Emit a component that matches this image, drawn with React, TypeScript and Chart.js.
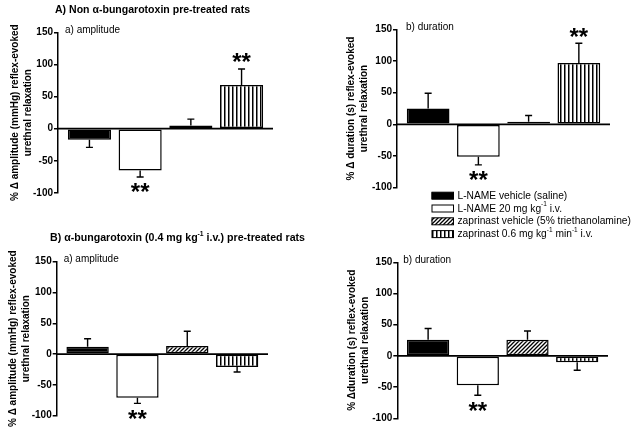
import React, { useEffect, useRef } from "react";
import { Chart, registerables } from "chart.js";

Chart.register(...registerables);

const FONT = '"Liberation Sans", Arial, Helvetica, sans-serif';
Chart.defaults.font.family = FONT;
Chart.defaults.color = "#000";

// ---------------- data ----------------
const treatments = [
  "L-NAME vehicle (saline)",
  "L-NAME 20 mg kg^{-1} i.v.",
  "zaprinast vehicle (5% triethanolamine)",
  "zaprinast 0.6 mg kg^{-1} min^{-1} i.v.",
];
const yTickValues = [-100, -50, 0, 50, 100, 150];

const figureTitleA = "A) Non \u03b1-bungarotoxin pre-treated rats";
const figureTitleB = "B) \u03b1-bungarotoxin (0.4 mg kg^{-1} i.v.) pre-treated rats";

const ampTitle = ["% \u0394 amplitude (mmHg) reflex-evoked", "urethral relaxation"];
const durTitle = ["% \u0394 duration (s) reflex-evoked", "urethral relaxation"];
const durTitleB = ["% \u0394duration (s) reflex-evoked", "urethral relaxation"];

// A) non alpha-bungarotoxin, a) amplitude
const ampNonBgtMean = [-17, -65, 5, 68];
const ampNonBgtSem = [12, 10, 10, 25];
const ampNonBgtSig = [false, true, false, true];
// A) non alpha-bungarotoxin, b) duration
const durNonBgtMean = [25, -51, 4, 97];
const durNonBgtSem = [24, 13, 10, 31];
const durNonBgtSig = [false, true, false, true];
// B) alpha-bungarotoxin, a) amplitude
const ampBgtMean = [12, -71, 13, -21];
const ampBgtSem = [13, 9, 24, 8];
const ampBgtSig = [false, true, false, false];
// B) alpha-bungarotoxin, b) duration
const durBgtMean = [26, -47, 26, -10];
const durBgtSem = [18, 16, 14, 13];
const durBgtSig = [false, true, false, false];

// ---------------- helpers ----------------
type Seg = { t: string; sup: boolean };
function parseRich(s: string): Seg[] {
  const segs: Seg[] = [];
  const re = /\^\{([^}]*)\}/g;
  let last = 0;
  let m: RegExpExecArray | null;
  while ((m = re.exec(s))) {
    if (m.index > last) segs.push({ t: s.slice(last, m.index), sup: false });
    segs.push({ t: m[1], sup: true });
    last = re.lastIndex;
  }
  if (last < s.length) segs.push({ t: s.slice(last), sup: false });
  return segs;
}

function drawRich(
  ctx: CanvasRenderingContext2D,
  s: string,
  x: number,
  y: number,
  size: number,
  weight: string,
  targetWidth?: number,
  scaleX?: number
) {
  const segs = parseRich(s);
  const main = `${weight} ${size}px ${FONT}`;
  const sup = `${weight} ${Math.round(size * 0.62)}px ${FONT}`;
  let w = 0;
  for (const sg of segs) {
    ctx.font = sg.sup ? sup : main;
    w += ctx.measureText(sg.t).width;
  }
  const sx = targetWidth ? targetWidth / w : scaleX ?? 1;
  ctx.save();
  ctx.translate(x, y);
  ctx.scale(sx, 1);
  ctx.textBaseline = "middle";
  ctx.textAlign = "left";
  ctx.fillStyle = "#000";
  let cx = 0;
  for (const sg of segs) {
    ctx.font = sg.sup ? sup : main;
    ctx.fillText(sg.t, cx, sg.sup ? -size * 0.38 : 0);
    cx += ctx.measureText(sg.t).width;
  }
  ctx.restore();
}

function makePattern(kind: string): CanvasPattern | string {
  if (kind === "solid") return "#000";
  if (kind === "empty") return "#fff";
  const c = document.createElement("canvas");
  const g = c.getContext("2d")!;
  if (kind === "diagonal") {
    c.width = 4;
    c.height = 4;
    g.fillStyle = "#fff";
    g.fillRect(0, 0, 4, 4);
    g.strokeStyle = "#000";
    g.lineWidth = 1.3;
    g.beginPath();
    g.moveTo(-1, 5);
    g.lineTo(5, -1);
    g.moveTo(-1, 1);
    g.lineTo(1, -1);
    g.moveTo(3, 5);
    g.lineTo(5, 3);
    g.stroke();
  } else {
    c.width = 4;
    c.height = 4;
    g.fillStyle = "#fff";
    g.fillRect(0, 0, 4, 4);
    g.fillStyle = "#000";
    g.fillRect(0, 0, 1.5, 4);
  }
  return g.createPattern(c, "repeat")!;
}

const fillKinds = ["solid", "empty", "diagonal", "vertical"];

// ---------------- plugins ----------------
const panelMarks = {
  id: "panelMarks",
  afterDatasetsDraw(chart: any, _args: any, opts: any) {
    const { ctx, chartArea } = chart;
    const y = chart.scales.y;
    const meta = chart.getDatasetMeta(0);
    const ds = chart.data.datasets[0];
    ctx.save();
    // zero line
    const y0 = y.getPixelForValue(0);
    ctx.strokeStyle = "#000";
    ctx.lineWidth = 1.8;
    ctx.beginPath();
    ctx.moveTo(chartArea.left, y0);
    ctx.lineTo(chartArea.right, y0);
    ctx.stroke();
    // error bars + stars
    meta.data.forEach((bar: any, i: number) => {
      const v = ds.data[i].y;
      const e = opts.errors[i];
      const dir = v >= 0 ? 1 : -1;
      const p0 = y.getPixelForValue(v);
      const p1 = y.getPixelForValue(v + dir * e);
      ctx.lineWidth = 1.4;
      ctx.beginPath();
      ctx.moveTo(bar.x, p0);
      ctx.lineTo(bar.x, p1);
      ctx.moveTo(bar.x - 3.5, p1);
      ctx.lineTo(bar.x + 3.5, p1);
      ctx.stroke();
      if (opts.sig[i]) {
        ctx.font = `bold 24px ${FONT}`;
        ctx.textAlign = "center";
        ctx.textBaseline = "alphabetic";
        const m = ctx.measureText("**");
        const cy = p1 + (dir > 0 ? -11 : 11);
        const base = cy - (m.actualBoundingBoxDescent - m.actualBoundingBoxAscent) / 2;
        ctx.fillStyle = "#000";
        ctx.fillText("**", bar.x, base);
      }
    });
    // subtitle
    ctx.font = `10px ${FONT}`;
    ctx.textAlign = "left";
    ctx.textBaseline = "middle";
    ctx.fillStyle = "#000";
    ctx.fillText(opts.subtitle, chartArea.left + opts.subDx, chartArea.top - 2);
    ctx.restore();
  },
};

const figureText = {
  id: "figureText",
  afterDraw(chart: any, _args: any, opts: any) {
    const { ctx } = chart;
    if (opts.title) {
      drawRich(ctx, opts.title.text, opts.title.x, opts.title.y, 11, "bold", opts.title.w);
    }
    if (opts.legend) {
      const L = opts.legend;
      treatments.forEach((t, i) => {
        const cy = L.y + i * L.step;
        ctx.save();
        ctx.fillStyle = makePattern(fillKinds[i]);
        ctx.fillRect(L.x, cy - 3.5, 22, 7);
        ctx.strokeStyle = "#000";
        ctx.lineWidth = 1;
        ctx.strokeRect(L.x + 0.5, cy - 3.5, 21.5, 7);
        ctx.restore();
        drawRich(ctx, t, L.x + 26, cy, 11, "normal", undefined, 0.93);
      });
    }
  },
};

// ---------------- panels ----------------
type Panel = {
  means: number[];
  sems: number[];
  sig: boolean[];
  axisTitle: string[];
  subtitle: string;
  area: { left: number; right: number; top: number; bottom: number };
  titleX: number;
  subDx: number;
  figure: any;
};

const panels: Panel[] = [
  {
    means: ampNonBgtMean,
    sems: ampNonBgtSem,
    sig: ampNonBgtSig,
    axisTitle: ampTitle,
    subtitle: "a) amplitude",
    area: { left: 58, right: 273, top: 32.3, bottom: 193 },
    titleX: 15,
    subDx: 7,
    figure: { title: { text: figureTitleA, x: 55, y: 9.5, w: 195 } },
  },
  {
    means: durNonBgtMean,
    sems: durNonBgtSem,
    sig: durNonBgtSig,
    axisTitle: durTitle,
    subtitle: "b) duration",
    area: { left: 397, right: 610, top: 29.3, bottom: 187.7 },
    titleX: 351,
    subDx: 9,
    figure: { legend: { x: 431.5, y: 195.7, step: 12.8 } },
  },
  {
    means: ampBgtMean,
    sems: ampBgtSem,
    sig: ampBgtSig,
    axisTitle: ampTitle,
    subtitle: "a) amplitude",
    area: { left: 56.7, right: 268, top: 261.7, bottom: 415.7 },
    titleX: 13.5,
    subDx: 7,
    figure: { title: { text: figureTitleB, x: 50, y: 238, w: 255 } },
  },
  {
    means: durBgtMean,
    sems: durBgtSem,
    sig: durBgtSig,
    axisTitle: durTitleB,
    subtitle: "b) duration",
    area: { left: 397.3, right: 608, top: 262.3, bottom: 418.3 },
    titleX: 352.7,
    subDx: 6,
    figure: {},
  },
];

function buildConfig(p: Panel): any {
  const lineH = 13;
  const scaleLeft = p.titleX - lineH / 2 - 2;
  const W = p.area.left - scaleLeft;
  return {
    type: "bar",
    data: {
      datasets: [
        {
          data: p.means.map((v, i) => ({ x: i, y: v })),
          backgroundColor: fillKinds.map((k) => makePattern(k)),
          borderColor: "#000",
          borderWidth: 1.5,
          borderSkipped: false,
          barPercentage: 0.85,
          categoryPercentage: 1,
        },
      ],
    },
    options: {
      responsive: false,
      animation: false,
      devicePixelRatio: 1,
      events: [],
      layout: {
        padding: {
          left: scaleLeft,
          top: p.area.top,
          right: 640 - p.area.right,
          bottom: 431 - p.area.bottom,
        },
      },
      scales: {
        x: {
          type: "linear",
          display: false,
          offset: false,
          grid: { offset: false },
          min: -0.62,
          max: treatments.length - 1 + 0.62,
          afterBuildTicks: (s: any) => {
            s.ticks = treatments.map((_, i) => ({ value: i }));
          },
        },
        y: {
          type: "linear",
          min: yTickValues[0],
          max: yTickValues[yTickValues.length - 1],
          afterBuildTicks: (s: any) => {
            s.ticks = yTickValues.map((v) => ({ value: v }));
          },
          afterFit: (s: any) => {
            s.width = W;
          },
          border: { display: true, color: "#000", width: 1.5 },
          grid: {
            display: true,
            drawOnChartArea: false,
            drawTicks: true,
            tickLength: 4,
            color: "#000",
            lineWidth: 1.5,
          },
          ticks: { color: "#000", font: { size: 10, weight: "bold" }, padding: 1 },
          title: {
            display: true,
            text: p.axisTitle,
            color: "#000",
            font: { size: 10, weight: "bold", lineHeight: 1.3 },
            padding: { top: 2, bottom: 0 },
          },
        },
      },
      plugins: {
        legend: { display: false },
        tooltip: { enabled: false },
        panelMarks: { errors: p.sems, sig: p.sig, subtitle: p.subtitle, subDx: p.subDx },
        figureText: p.figure,
      },
    },
    plugins: [panelMarks, figureText],
  };
}

export default function App() {
  const refs = useRef<(HTMLCanvasElement | null)[]>([]);
  useEffect(() => {
    const charts = panels.map((p, k) => new Chart(refs.current[k]!, buildConfig(p)));
    return () => charts.forEach((c) => c.destroy());
  }, []);
  return (
    <div
      style={{
        position: "absolute",
        left: 0,
        top: 0,
        width: 640,
        height: 431,
        background: "#fff",
        overflow: "hidden",
      }}
    >
      {panels.map((_, k) => (
        <canvas
          key={k}
          ref={(el) => {
            refs.current[k] = el;
          }}
          width={640}
          height={431}
          style={{ position: "absolute", left: 0, top: 0 }}
        />
      ))}
    </div>
  );
}
